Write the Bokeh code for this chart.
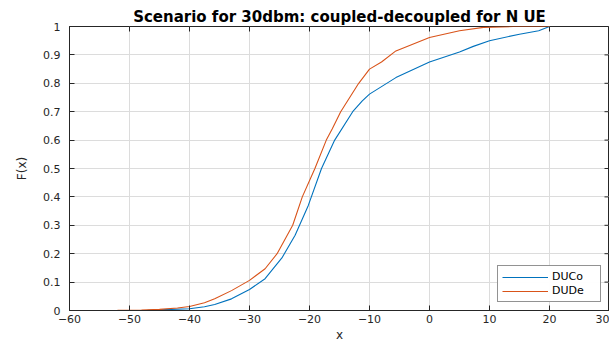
import math
from bokeh.plotting import figure
from bokeh.models import Range1d, FixedTicker, Legend, LegendItem
from bokeh.embed import file_html
from bokeh.resources import INLINE

# ---- data ----
ducox = [-50, -47, -44, -40, -37.5, -35.8, -33, -30, -27.4, -24.6, -22.4, -20.2, -18, -15.8,
         -12.8, -11.2, -10, -5.6, 0, 5, 7.3, 10, 15, 18.2, 20]
ducoy = [0.0, 0.001, 0.003, 0.006, 0.013, 0.021, 0.041, 0.074, 0.112, 0.185, 0.265, 0.37, 0.5, 0.6,
         0.7, 0.738, 0.762, 0.82, 0.875, 0.91, 0.93, 0.95, 0.973, 0.985, 1.0]

dudex = [-58, -52, -48, -45, -42, -40, -37.5, -35.8, -33, -30, -27.4, -25.4, -22.8, -21.2, -19.1,
         -17.2, -16.2, -14.8, -11.8, -10, -8, -5.6, 0, 5, 9, 14, 20]
dudey = [0.0, 0.0005, 0.002, 0.004, 0.009, 0.014, 0.027, 0.041, 0.07, 0.106, 0.147, 0.2, 0.3, 0.4, 0.5,
         0.6, 0.64, 0.7, 0.8, 0.85, 0.875, 0.914, 0.961, 0.985, 0.997, 1.0, 1.0]

xticks = [-60, -50, -40, -30, -20, -10, 0, 10, 20, 30]
yticks = [0, 0.1, 0.2, 0.3, 0.4, 0.5, 0.6, 0.7, 0.8, 0.9, 1]
yticklabels = ["0", "0.1", "0.2", "0.3", "0.4", "0.5", "0.6", "0.7", "0.8", "0.9", "1"]

title_text = "Scenario for 30dbm: coupled-decoupled for N UE"
series_names = ["DUCo", "DUDe"]

FONT = "DejaVu Sans"
AX = "#262626"
XMIN, XMAX, YMIN, YMAX = -60, 30, 0, 1

p = figure(width=609, height=345, output_backend="svg", toolbar_location=None,
           x_range=Range1d(XMIN, XMAX), y_range=Range1d(YMIN, YMAX),
           min_border_left=69, min_border_right=0, min_border_top=26, min_border_bottom=35)

p.title.text = title_text
p.title.align = "center"
p.title.text_font = FONT
p.title.text_font_size = "15px"
p.title.text_font_style = "bold"
p.title.text_color = "#000000"
p.title.standoff = 2

p.outline_line_color = AX
p.outline_line_width = 1
p.background_fill_color = "white"
p.border_fill_color = "white"

for ax in [p.xaxis[0], p.yaxis[0]]:
    ax.axis_line_color = AX
    ax.major_tick_line_color = AX
    ax.major_tick_in = 5
    ax.major_tick_out = 0
    ax.minor_tick_line_color = None
    ax.major_label_text_font = FONT
    ax.major_label_text_font_size = "11px"
    ax.major_label_text_color = AX
    ax.axis_label_text_font = FONT
    ax.axis_label_text_font_size = "12px"
    ax.axis_label_text_font_style = "normal"
    ax.axis_label_text_color = AX

p.xaxis.ticker = FixedTicker(ticks=xticks)
p.yaxis.ticker = FixedTicker(ticks=yticks)
p.yaxis.major_label_overrides = {t: l for t, l in zip(yticks, yticklabels)}
p.xaxis.major_label_standoff = 4
p.xaxis.axis_label = "x"
p.xaxis.axis_label_standoff = 2
p.yaxis.major_label_standoff = 9
p.yaxis.axis_label = "F(x)"
p.yaxis.axis_label_standoff = 11

p.xgrid.ticker = FixedTicker(ticks=xticks)
p.ygrid.ticker = FixedTicker(ticks=yticks)
for g in [p.xgrid[0], p.ygrid[0]]:
    g.grid_line_color = "#dcdcdc"
    g.grid_line_width = 1

# inward ticks on the top and right edges of the box (half of each dash is clipped by the frame)
p.scatter(xticks, [YMAX] * len(xticks), marker="dash", size=10, angle=math.pi / 2,
          line_color=AX, line_width=1)
p.scatter([XMAX] * len(yticks), yticks, marker="dash", size=10,
          line_color=AX, line_width=1)

r1 = p.line(ducox, ducoy, line_color="#0072BD", line_width=1.1)
r2 = p.line(dudex, dudey, line_color="#D95319", line_width=1.1)

legend = Legend(items=[LegendItem(label=series_names[0], renderers=[r1]),
                       LegendItem(label=series_names[1], renderers=[r2])],
                location="bottom_right")
legend.label_text_font = FONT
legend.label_text_font_size = "11px"
legend.label_text_color = "#000000"
legend.glyph_width = 46
legend.glyph_height = 12
legend.label_height = 12
legend.label_width = 44
legend.spacing = 1
legend.padding = 4
legend.margin = 8
legend.label_standoff = 4
legend.border_line_color = AX
legend.border_line_width = 1
legend.background_fill_color = "white"
p.add_layout(legend, "center")

open("out.html", "w").write(file_html(p, INLINE))
